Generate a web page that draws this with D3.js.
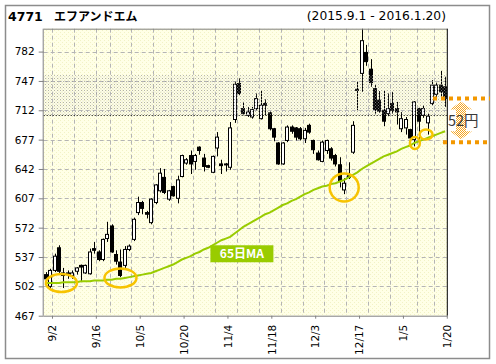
<!DOCTYPE html>
<html><head><meta charset="utf-8">
<script src="https://cdn.jsdelivr.net/npm/d3@7"></script>
<style>body{margin:0;background:#fff;} svg{display:block;}</style>
</head><body><svg id="c" width="496" height="364"></svg>
<script>
const dates = ["9/1","9/2","9/3","9/4","9/7","9/8","9/9","9/10","9/11","9/14","9/15","9/16","9/17","9/18","9/24","9/25","9/28","9/29","9/30",
"10/1","10/2","10/5","10/6","10/7","10/8","10/9","10/13","10/14","10/15","10/16","10/19","10/20","10/21","10/22","10/23","10/26","10/27","10/28","10/29","10/30",
"11/2","11/4","11/5","11/6","11/9","11/10","11/11","11/12","11/13","11/16","11/17","11/18","11/19","11/20","11/24","11/25","11/26","11/27","11/30",
"12/1","12/2","12/3","12/4","12/7","12/8","12/9","12/10","12/11","12/14","12/15","12/16","12/17","12/18","12/21","12/22","12/24","12/25","12/28","12/29","12/30",
"1/4","1/5","1/6","1/7","1/8","1/12","1/13","1/14","1/15","1/18","1/19","1/20"];
const open = [516,502,521,548,518,518,515,520,527,518, 517,547,543,534,559,574,540,531,527,546,
 558,590,602,590,578,602,616,632,606,621, 607,633,649,658,651,668,655,646,638,667,
 648,648,644,701,744,714,706,704,714,702, 720,709,690,673,648,676,692,691,690,678,
 694,676,661,651,664,666,658,647,617,634, 662,737,756,781,761,738,724,712,708,720,
 714,690,691,689,677,714,706,697,720,731, 742,740];
const close = [511,521,538,520,515,516,518,524,525,527, 543,545,534,558,564,543,532,515,546,550,
 582,602,595,588,606,623,637,614,616,610, 629,658,653,648,658,664,645,644,657,680,
 646,647,691,743,732,708,710,713,726,718, 718,690,680,648,673,692,687,680,678,688,
 686,665,653,674,676,655,648,628,625,632, 694,736,795,770,745,713,711,699,714,712,
 710,702,701,679,722,699,714,705,742,742, 734,726];
const high = [519,523,541,551,524,521,521,525,528,528, 547,555,545,559,579,576,545,546,550,552,
 584,609,604,592,607,624,643,642,617,622, 634,659,655,664,660,669,660,647,658,686,
 653,649,698,746,750,722,716,716,732,735, 725,711,691,674,674,694,694,692,692,691,
 696,677,664,676,677,668,660,656,631,650, 699,746,815,790,773,742,735,735,732,734,
 722,710,704,690,723,715,718,708,748,745, 759,752];
const low = [509,500,519,518,500,511,511,516,507,517, 516,541,532,532,555,542,528,513,524,544,
 556,587,588,583,576,600,614,612,604,609, 601,632,647,636,641,659,639,643,637,657,
 636,639,641,697,730,706,704,702,712,701, 706,688,675,647,647,674,684,676,676,673,
 684,660,652,650,660,652,645,620,612,630, 660,712,734,765,740,708,709,693,705,708,
 695,686,683,676,669,673,703,683,718,725, 728,716];
const ma65 = [506,506,506,506,507,507,507,507,508,508, 508,509,509,509,510,510,511,511,512,513,
 514,515,516,517,518,520,522,524,526,528, 531,534,536,538,541,543,546,548,551,554,
 557,559,561,565,569,573,576,579,582,585, 588,590,593,596,599,601,604,606,609,612,
 614,617,619,621,622,624,625,627,629,632, 635,638,642,645,648,651,654,657,659,661,
 663,666,668,670,673,675,677,679,681,683, 685,687];
const yTicks = [467,502,537,572,607,642,677,712,747,782];
const xTickLabels = ["9/2","9/16","10/5","10/20","11/4","11/18","12/3","12/17","1/5","1/20"];
const gridDates = ["9/2","9/9","9/16","9/24","10/1","10/8","10/15","10/22","10/29","11/6","11/13","11/20","11/30","12/7","12/14","12/21","12/29","1/8","1/15","1/20"];
const bandRange = [706, 754];
const diffLevels = [726, 674];
</script>
<script>
const svg = d3.select("#c");
const P = {l:43.7, r:447.3, t:28.7, b:315.7};
const x = d3.scaleBand().domain(dates).range([P.l, P.r]);
const bw = x.bandwidth();
const y = d3.scaleLinear().domain([467, 809.3]).range([P.b, P.t]);
const cx = d => x(d) + bw/2;

const defs = svg.append("defs");
const bg = defs.append("pattern").attr("id","bgp").attr("width",4).attr("height",4).attr("patternUnits","userSpaceOnUse");
bg.append("rect").attr("width",4).attr("height",4).attr("fill","#ffffe6");
bg.append("rect").attr("x",0).attr("y",0).attr("width",1).attr("height",1).attr("fill","#f2f2c6");
bg.append("rect").attr("x",2).attr("y",2).attr("width",1).attr("height",1).attr("fill","#f2f2c6");
const bp = defs.append("pattern").attr("id","bandp").attr("width",3).attr("height",3).attr("patternUnits","userSpaceOnUse");
bp.append("rect").attr("x",0).attr("y",0).attr("width",1).attr("height",1).attr("fill","#9a9a9a");
bp.append("rect").attr("x",1.5).attr("y",1.5).attr("width",1).attr("height",1).attr("fill","#c4c4c4");
const ap = defs.append("pattern").attr("id","arrp").attr("width",2).attr("height",2).attr("patternUnits","userSpaceOnUse");
ap.append("rect").attr("width",1).attr("height",1).attr("fill","#f5a623");
ap.append("rect").attr("x",1).attr("y",1).attr("width",1).attr("height",1).attr("fill","#f5a623");
defs.append("clipPath").attr("id","clip").append("rect").attr("x",P.l).attr("y",P.t).attr("width",P.r-P.l).attr("height",P.b-P.t);

// outer frame
svg.append("rect").attr("x",5.5).attr("y",5.5).attr("width",484).attr("height",353).attr("fill","#fff").attr("stroke","#8c8c8c").attr("stroke-width",1.5);

// title
svg.append("text").attr("x",8).attr("y",21).attr("font-family","DejaVu Sans").attr("font-weight","bold").attr("font-size",12.5).attr("fill","#000").text("4771");
svg.append("text").attr("x",54).attr("y",21).attr("font-family","Noto Sans CJK JP").attr("font-weight","bold").attr("font-size",12).attr("fill","#000").text("エフアンドエム");
svg.append("text").attr("x",446).attr("y",20).attr("text-anchor","end").attr("font-family","DejaVu Sans").attr("font-size",12.3).attr("fill","#000").text("(2015.9.1 - 2016.1.20)");

// plot background
svg.append("rect").attr("x",P.l).attr("y",P.t).attr("width",P.r-P.l).attr("height",P.b-P.t).attr("fill","url(#bgp)");

// grid
const g = svg.append("g");
g.selectAll(".hg").data(yTicks.slice(1)).join("line")
 .attr("x1",P.l).attr("x2",P.r).attr("y1",d=>Math.round(y(d))+0.5).attr("y2",d=>Math.round(y(d))+0.5)
 .attr("stroke","#b4b4b4").attr("stroke-dasharray","4,3");
g.selectAll(".vg").data(gridDates.slice(0,-1)).join("line")
 .attr("x1",d=>Math.round(x(d)+bw)+0.5).attr("x2",d=>Math.round(x(d)+bw)+0.5).attr("y1",P.t).attr("y2",P.b)
 .attr("stroke","#b4b4b4").attr("stroke-dasharray","4,3");

// candles
const idx = d3.range(dates.length);
const cg = svg.append("g").attr("clip-path","url(#clip)");
cg.selectAll(".w").data(idx).join("line")
 .attr("x1",i=>Math.round(cx(dates[i]))+0.5).attr("x2",i=>Math.round(cx(dates[i]))+0.5)
 .attr("y1",i=>y(high[i])).attr("y2",i=>y(low[i])).attr("stroke","#000").attr("stroke-width",1);
cg.selectAll(".b").data(idx).join("rect")
 .attr("x",i=>Math.round(cx(dates[i]))-1.5+0.5-0.5)
 .attr("y",i=>y(Math.max(open[i],close[i])))
 .attr("width",3)
 .attr("height",i=>Math.max(1,Math.abs(y(open[i])-y(close[i]))))
 .attr("fill",i=>close[i]>=open[i]?"#fff":"#000")
 .attr("stroke","#000").attr("stroke-width",1);

// dotted band
svg.append("rect").attr("x",P.l).attr("y",y(bandRange[1])).attr("width",P.r-P.l).attr("height",y(bandRange[0])-y(bandRange[1])).attr("fill","url(#bandp)").attr("opacity",0.75);
svg.append("line").attr("x1",P.l).attr("x2",P.r).attr("y1",Math.round(y(bandRange[0]))+0.5).attr("y2",Math.round(y(bandRange[0]))+0.5).attr("stroke","#000").attr("stroke-dasharray","1,2");

// MA line
svg.append("path").datum(idx).attr("clip-path","url(#clip)")
 .attr("d",d3.line().x(i=>cx(dates[i])).y(i=>y(ma65[i])))
 .attr("fill","none").attr("stroke","#99cc00").attr("stroke-width",2);

// plot border
svg.append("line").attr("x1",P.l).attr("x2",P.r).attr("y1",P.t+0.5).attr("y2",P.t+0.5).attr("stroke","#808080");
svg.append("line").attr("x1",P.l-0.5).attr("x2",P.l-0.5).attr("y1",P.t).attr("y2",P.b).attr("stroke","#808080");
svg.append("line").attr("x1",P.l).attr("x2",P.r).attr("y1",P.b+0.5).attr("y2",P.b+0.5).attr("stroke","#808080");
svg.append("line").attr("x1",P.r).attr("x2",P.r).attr("y1",P.t).attr("y2",P.b).attr("stroke","#000");

// y axis
const ya = svg.append("g").attr("transform",`translate(${P.l},0)`)
 .call(d3.axisLeft(y).tickValues(yTicks).tickSize(5).tickPadding(4));
ya.select(".domain").remove();
ya.selectAll("line").attr("stroke","#808080");
ya.selectAll("text").attr("font-family","DejaVu Sans").attr("font-size",10.5).attr("fill","#000");

// x axis
const xa = svg.append("g").attr("transform",`translate(${bw/2},${P.b})`)
 .call(d3.axisBottom(x).tickValues(xTickLabels).tickSize(3).tickPadding(2));
xa.select(".domain").remove();
xa.selectAll("line").attr("stroke","#808080");
xa.selectAll("text").attr("font-family","DejaVu Sans").attr("font-size",10.5).attr("fill","#000")
 .attr("transform","rotate(-90)").attr("text-anchor","end").attr("x",-9).attr("y",0).attr("dy","0.35em");

// highlight ellipses
const ell = [
 {d:"9/7", v:506, rx:15.5, ry:9, dx:-2},
 {d:"9/29", v:512, rx:16, ry:9.5, dx:0},
 {d:"12/14", v:620, rx:14.5, ry:14, dx:0},
 {d:"1/8", v:673, rx:5, ry:6, dx:0.5},
 {d:"1/14", v:683, rx:6.5, ry:5, dx:-1.5}
];
svg.selectAll(".el").data(ell).join("ellipse")
 .attr("cx",e=>cx(e.d)+e.dx).attr("cy",e=>y(e.v)).attr("rx",e=>e.rx).attr("ry",e=>e.ry)
 .attr("fill","none").attr("stroke","#f7c300").attr("stroke-width",2.5);

// MA label
const lb = svg.append("g");
const lx = x("10/29");
lb.append("rect").attr("x",lx).attr("y",y(551)).attr("width",63).attr("height",17).attr("fill","#99cc00");
lb.append("text").attr("x",lx+31.5).attr("y",y(551)+13).attr("text-anchor","middle").attr("font-family","Noto Sans CJK JP").attr("font-weight","bold").attr("font-size",12).attr("fill","#fff").text("65日MA");

// 52円 annotation
const ya0 = y(diffLevels[0]), ya1 = y(diffLevels[1]);
svg.append("line").attr("x1",433).attr("x2",490).attr("y1",ya0).attr("y2",ya0).attr("stroke","#f39800").attr("stroke-width",4).attr("stroke-dasharray","4,4");
svg.append("line").attr("x1",443).attr("x2",490).attr("y1",ya1).attr("y2",ya1).attr("stroke","#f39800").attr("stroke-width",4).attr("stroke-dasharray","4,4");
const ax = 461;
const arr = `M${ax},${ya0+3} L${ax+11},${ya0+11} L${ax+5},${ya0+11} L${ax+5},${ya1-11} L${ax+11},${ya1-11} L${ax},${ya1-3} L${ax-11},${ya1-11} L${ax-5},${ya1-11} L${ax-5},${ya0+11} L${ax-11},${ya0+11} Z`;
svg.append("path").attr("d",arr).attr("fill","url(#arrp)");
svg.append("text").attr("x",448).attr("y",(ya0+ya1)/2+5.5).attr("font-family","Noto Sans CJK JP").attr("font-size",14.5).attr("fill","#3a3a3a").text((diffLevels[0]-diffLevels[1])+"円");
</script>
</body></html>
